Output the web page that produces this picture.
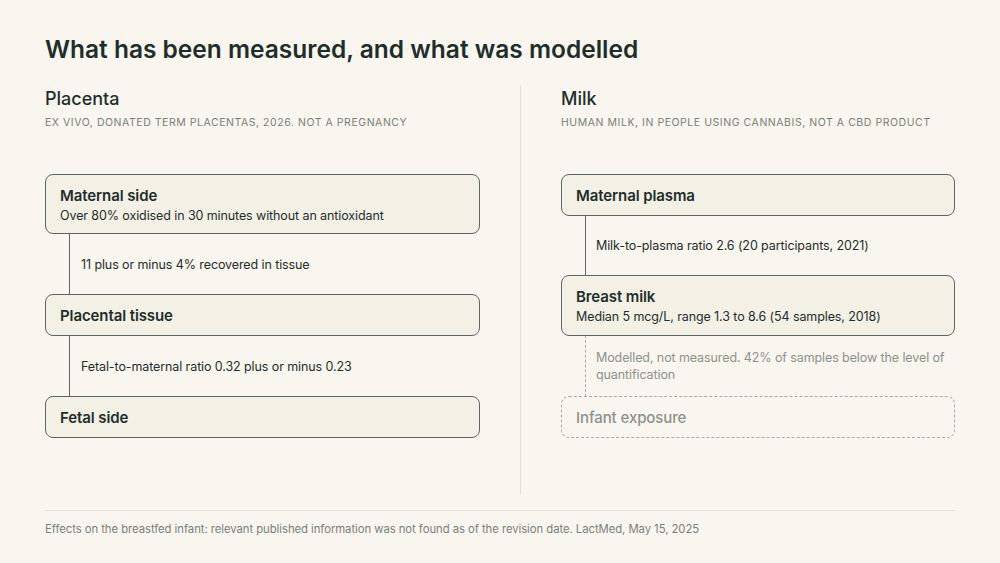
<!DOCTYPE html>
<html><head><meta charset="utf-8">
<script src="https://cdn.jsdelivr.net/npm/chart.js@4"></script>
<style>
body{margin:0;width:1000px;height:563px;background:#f9f6ef;font-family:Inter,"Noto Sans",sans-serif;color:#1f2e2a;position:relative;overflow:hidden}
.a{position:absolute}
h1{position:absolute;left:45px;top:34px;margin:0;font-size:24.5px;font-weight:600;letter-spacing:0px}
.h{font-size:18px;font-weight:500}
.sub{font-size:10.5px;letter-spacing:0.55px;color:#7a7f7a;text-transform:uppercase}
.box{position:absolute;box-sizing:border-box;border:1px solid #5d6663;border-radius:8px;background:#f3f0e6;padding:0 14px;display:flex;flex-direction:column;justify-content:center}
.box b{font-size:15px;font-weight:600;letter-spacing:-0.1px}
.box span{font-size:12.5px;margin-top:3px;letter-spacing:-0.1px}
.dash{border:1px dashed #a9aca6;background:transparent;color:#8d918c}
.dash b{font-weight:500}
.vl{position:absolute;width:0;border-left:1px solid #5d6663}
.vd{position:absolute;width:0;border-left:1px dashed #a9aca6}
.t{position:absolute;font-size:12.5px;letter-spacing:-0.1px}
.g{color:#8d918c;line-height:17px}
</style></head><body>
<h1>What has been measured, and what was modelled</h1>
<div class="a h" style="left:45px;top:88px">Placenta</div>
<div class="a sub" style="left:45px;top:116px">Ex vivo, donated term placentas, 2026. Not a pregnancy</div>
<div class="a h" style="left:561px;top:88px">Milk</div>
<div class="a sub" style="left:561px;top:116px">Human milk, in people using cannabis, not a CBD product</div>
<div class="a" style="left:520px;top:86px;width:1px;height:409px;background:#e3e0d8"></div>

<div class="vl" style="left:69px;top:233px;height:62px"></div>
<div class="vl" style="left:69px;top:335px;height:62px"></div>
<div class="box" style="left:45px;top:174px;width:435px;height:60px"><b>Maternal side</b><span>Over 80% oxidised in 30 minutes without an antioxidant</span></div>
<div class="t" style="left:81px;top:257px">11 plus or minus 4% recovered in tissue</div>
<div class="box" style="left:45px;top:294px;width:435px;height:42px"><b>Placental tissue</b></div>
<div class="t" style="left:81px;top:359px">Fetal-to-maternal ratio 0.32 plus or minus 0.23</div>
<div class="box" style="left:45px;top:396px;width:435px;height:42px"><b>Fetal side</b></div>

<div class="vl" style="left:585px;top:215px;height:61px"></div>
<div class="vd" style="left:585px;top:335px;height:62px"></div>
<div class="box" style="left:561px;top:174px;width:394px;height:42px"><b>Maternal plasma</b></div>
<div class="t" style="left:596px;top:238px">Milk-to-plasma ratio 2.6 (20 participants, 2021)</div>
<div class="box" style="left:561px;top:275px;width:394px;height:61px"><b>Breast milk</b><span>Median 5 mcg/L, range 1.3 to 8.6 (54 samples, 2018)</span></div>
<div class="t g" style="left:596px;top:349px;width:360px">Modelled, not measured. 42% of samples below the level of quantification</div>
<div class="box dash" style="left:561px;top:396px;width:394px;height:42px"><b>Infant exposure</b></div>

<div class="a" style="left:45px;top:510px;width:910px;height:1px;background:#e3e0d8"></div>
<div class="a" style="left:45px;top:522px;font-size:11.3px;letter-spacing:-0.05px;color:#7a7f7a">Effects on the breastfed infant: relevant published information was not found as of the revision date. LactMed, May 15, 2025</div>
</body></html>
